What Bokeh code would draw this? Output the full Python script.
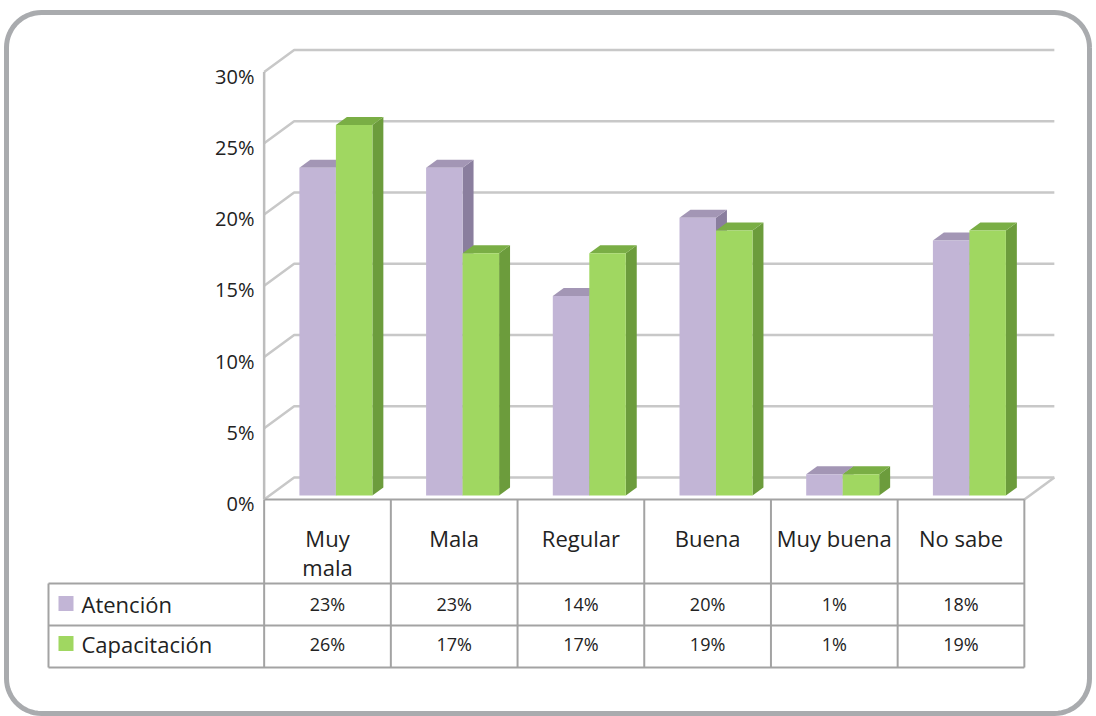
import numpy as np
from bokeh.plotting import figure
from bokeh.models import Range1d
from bokeh.embed import file_html
from bokeh.resources import INLINE
from bokeh.core.properties import value

# ---------------- data ----------------
categories = ["Muy\nmala", "Mala", "Regular", "Buena", "Muy buena", "No sabe"]
series_names = ["Atención", "Capacitación"]
atencion = [23.0, 23.0, 14.0, 19.5, 1.5, 17.9]
capacitacion = [26.0, 17.0, 17.0, 18.6, 1.5, 18.6]
atencion_labels = ["23%", "23%", "14%", "20%", "1%", "18%"]
capacitacion_labels = ["26%", "17%", "17%", "19%", "1%", "19%"]
y_ticks = [0, 5, 10, 15, 20, 25, 30]
y_tick_labels = ["0%", "5%", "10%", "15%", "20%", "25%", "30%"]

# ---------------- styling / geometry ----------------
W, H = 1096, 716
PX = 126.7     # pixels per category unit
PY = 14.25     # pixels per percent unit
X0S, Y0S = 327.0, 499.0   # screen position of category 0 / floor front 0%
FONT = "Open Sans"
TXT = "#222222"

def px(d):
    return d / PX

def py(d):
    return d / PY

def sx(x):
    return (x - X0S) / PX

def sy(y):
    return (Y0S - y) / PY

x_start = sx(0)
y_start = sy(H)
p = figure(width=W, height=H, output_backend="svg", toolbar_location=None,
           x_range=Range1d(x_start, x_start + W / PX),
           y_range=Range1d(y_start, y_start + H / PY),
           min_border=0, x_axis_location=None, y_axis_location=None)
p.grid.visible = False
p.outline_line_color = None
p.background_fill_color = "white"
p.border_fill_color = "white"

n = len(categories)
idx = np.arange(n)
DX, DY = px(30), py(22)          # full floor depth
left_edge, right_edge = -0.5, n - 0.5

# ---------------- rounded outer frame ----------------
fl, fr, ft, fb, rad = 6, 1089, 12, 713, 35
path_x, path_y = [], []
def arc(cx, cy, a0, a1):
    a = np.linspace(a0, a1, 16)
    path_x.extend(cx + rad * np.cos(a))
    path_y.extend(cy - rad * np.sin(a))
arc(fr - rad, ft + rad, 0.0, np.pi / 2)
arc(fl + rad, ft + rad, np.pi / 2, np.pi)
arc(fl + rad, fb - rad, np.pi, 1.5 * np.pi)
arc(fr - rad, fb - rad, 1.5 * np.pi, 2 * np.pi)
path_x.append(path_x[0]); path_y.append(path_y[0])
p.line([sx(v) for v in path_x], [sy(v) for v in path_y],
       line_color="#a9abae", line_width=5)

# ---------------- back wall gridlines ----------------
grid_xs, grid_ys = [], []
for t in y_ticks:
    grid_xs.append([left_edge, left_edge + DX, right_edge + DX])
    grid_ys.append([t, t + DY, t + DY])
p.multi_line(grid_xs, grid_ys, line_color="#c8c8c8", line_width=2.5)
p.line([right_edge, right_edge + DX], [0, DY], line_color="#c8c8c8", line_width=2.5)

# ---------------- 3D bars ----------------
D0 = 0.18        # bar front-plane depth fraction
BD = 0.365       # bar depth fraction
bw = px(36.5)
bdx, bdy = BD * DX, BD * DY
centers = idx + px(3) + D0 * DX
base = D0 * DY

def bar3d(lefts, vals, face, cap, side):
    lefts = np.asarray(lefts)
    rights = lefts + bw
    tops = base + np.asarray(vals)
    side_xs = [[r, r + bdx, r + bdx, r] for r in rights]
    side_ys = [[base, base + bdy, t + bdy, t] for t in tops]
    p.patches(side_xs, side_ys, fill_color=side, line_color=None)
    cap_xs = [[l, r, r + bdx, l + bdx] for l, r in zip(lefts, rights)]
    cap_ys = [[t, t, t + bdy, t + bdy] for t in tops]
    p.patches(cap_xs, cap_ys, fill_color=cap, line_color=None)
    p.quad(left=lefts, right=rights, bottom=base, top=tops,
           fill_color=face, line_color=None)

bar3d(centers - bw, atencion, "#c2b5d6", "#a396b5", "#8a7e9e")
bar3d(centers, capacitacion, "#a0d761", "#7aae45", "#6c9c3c")

# ---------------- table ----------------
row1_top = sy(583)
row2_top = sy(625)
table_bottom = sy(667)
legend_left = sx(48)
tcol = "#a3a3a3"
h_xs = [[left_edge, right_edge], [legend_left, right_edge],
        [legend_left, right_edge], [legend_left, right_edge]]
h_ys = [[0, 0], [row1_top, row1_top], [row2_top, row2_top],
        [table_bottom, table_bottom]]
p.multi_line(h_xs, h_ys, line_color=tcol, line_width=2)
v_xs = [[legend_left, legend_left]] + [[b, b] for b in np.arange(n + 1) - 0.5]
v_ys = [[row1_top, table_bottom]] + [[0, table_bottom]] * (n + 1)
p.multi_line(v_xs, v_ys, line_color=tcol, line_width=2)
p.line([left_edge, left_edge], [0, y_ticks[-1]], line_color="#bdbdbd", line_width=2.5)

# y tick labels
p.text(x=[sx(254)] * len(y_ticks), y=[t - py(4) for t in y_ticks], text=y_tick_labels,
       text_align="right", text_baseline="middle", text_font=value(FONT),
       text_font_size="20px", text_color=TXT)

# header category labels
p.text(x=idx, y=[sy(522)] * n, text=categories, text_align="center",
       text_baseline="top", text_font=value(FONT), text_font_size="22px",
       text_line_height=0.97, text_color=TXT)

# value rows
row_y = [sy(603), sy(643)]
p.text(x=idx, y=[row_y[0]] * n, text=atencion_labels, text_align="center",
       text_baseline="middle", text_font=value(FONT), text_font_size="18px",
       text_color=TXT)
p.text(x=idx, y=[row_y[1]] * n, text=capacitacion_labels, text_align="center",
       text_baseline="middle", text_font=value(FONT), text_font_size="18px",
       text_color=TXT)

# legend in table
p.scatter(x=[sx(65.5)] * 2, y=row_y, marker="square", size=15,
          fill_color=["#c2b5d6", "#a0d761"], line_color=None)
p.text(x=[sx(81)] * 2, y=row_y, text=series_names, text_align="left",
       text_baseline="middle", text_font=value(FONT), text_font_size="22px",
       text_color=TXT)

open("out.html", "w").write(file_html(p, INLINE))
